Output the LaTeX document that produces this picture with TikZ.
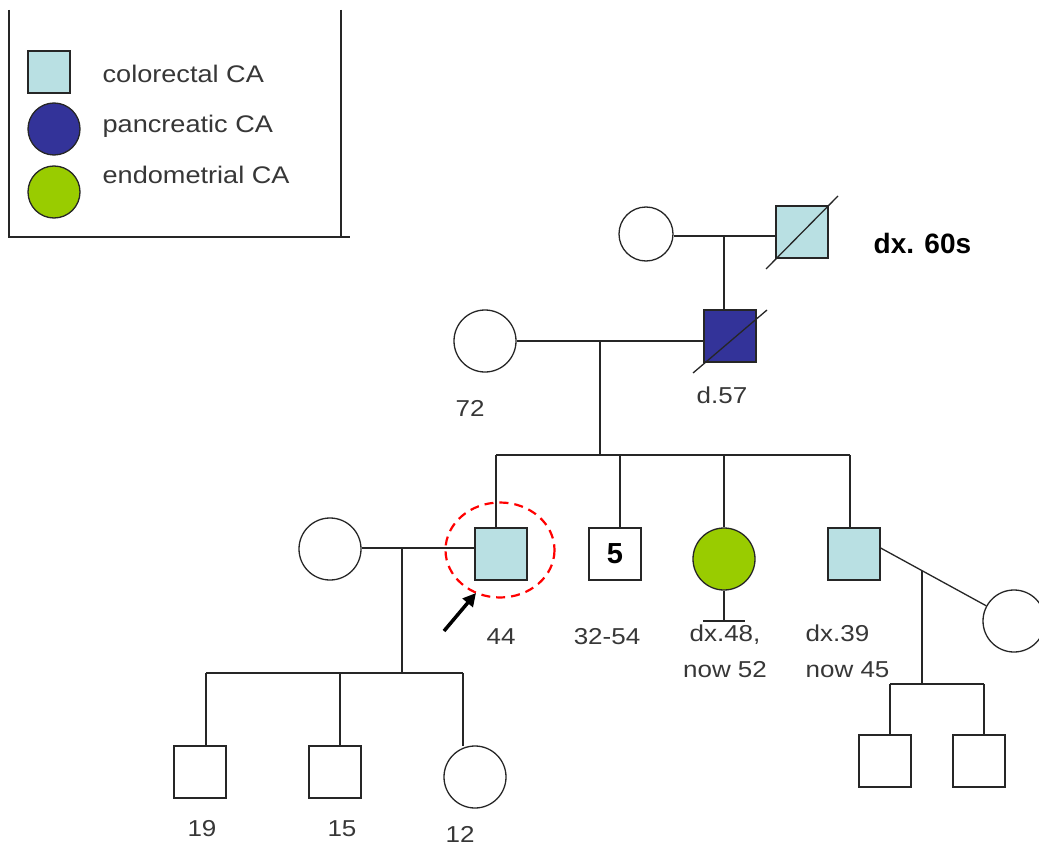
\documentclass[tikz,border=0pt]{standalone}
\usepackage{fontspec}
\setmainfont{Liberation Sans}
\newfontfamily\labfont[FakeStretch=1.13]{Liberation Sans}
\usetikzlibrary{arrows.meta}
\definecolor{crc}{RGB}{185,224,227}
\definecolor{panc}{RGB}{51,51,153}
\definecolor{endo}{RGB}{153,204,0}
\definecolor{labgray}{RGB}{55,55,55}
\begin{document}
\begin{tikzpicture}[x=1pt,y=-1pt,line width=1.3pt,
  sq/.style={draw=black!85,rectangle,minimum size=52pt,inner sep=0pt,fill=white},
  circ/.style={draw=black!85,circle,minimum size=62pt,inner sep=0pt,fill=white},
  lab/.style={font=\labfont\fontsize{23}{36}\selectfont,text=labgray,inner sep=0pt},
  legtxt/.style={font=\labfont\fontsize{24}{28}\selectfont,text=labgray,inner sep=0pt,anchor=west},
  lnk/.style={draw=black!85,line width=1.3pt}]
\useasboundingbox (0,0) rectangle (1039,848);
\clip (0,0) rectangle (1039,848);
\fill[white] (0,0) rectangle (1039,848);

% legend
\draw[lnk] (9,10) -- (9,237) -- (350,237);
\draw[lnk] (341,10) -- (341,237);
\node[sq,fill=crc,minimum size=42pt] (lg1) at (49,72) {};
\node[circ,fill=panc,minimum size=52pt] (lg2) at (54,129) {};
\node[circ,fill=endo,minimum size=52pt] (lg3) at (54,192) {};
\node[legtxt] (lt1) at (102,74) {colorectal CA};
\node[legtxt] (lt2) at (102,126) {pancreatic CA};
\node[legtxt] (lt3) at (102,175) {endometrial CA};

% generation I
\node[circ,minimum size=54pt] (gm) at (646,234) {};
\node[sq,fill=crc] (gf) at (802,232) {};
\draw[lnk] (766,269) -- (838,196);
\coordinate (m1) at (724,236);
\draw[lnk] (gm.east |- m1) -- (gf.west |- m1);
\node[font=\bfseries\fontsize{28}{32}\selectfont,anchor=west,inner sep=0pt] (dx60) at (873,243) {dx. 60s};

% generation II
\node[circ] (mo) at (485,341) {};
\node[sq,fill=panc] (fa) at (730,336) {};
\draw[lnk] (693,373) -- (767,310);
\draw[lnk] (m1) -- (m1 |- fa.north);
\coordinate (m2) at (600,341);
\draw[lnk] (mo.east |- m2) -- (fa.west |- m2);
\node[lab] (l72) at (470,408) {72};
\node[lab] (l57) at (722,395) {d.57};

% sibship II
\coordinate (s2) at (600,455);
\coordinate (s2a) at (496,455);
\coordinate (s2b) at (620,455);
\coordinate (s2c) at (724,455);
\coordinate (s2d) at (850,455);
\draw[lnk] (m2) -- (s2);
\draw[lnk] (s2a) -- (s2d);

\node[sq,fill=crc] (pb) at (501,554) {};
\node[sq] (five) at (615,554) {\bfseries\fontsize{29}{32}\selectfont 5};
\node[circ,fill=endo] (sis) at (724,559) {};
\node[sq,fill=crc] (br) at (854,554) {};
\draw[lnk] (s2a) -- (s2a |- pb.north);
\draw[lnk] (s2b) -- (s2b |- five.north);
\draw[lnk] (s2c) -- (sis.north);
\draw[lnk] (s2d) -- (s2d |- br.north);

% proband marking
\draw[red,dashed,line width=2.2pt,dash pattern=on 9pt off 6pt] (500,550) ellipse [x radius=54.5, y radius=47.5];
\coordinate (arrS) at (444,631);
\coordinate (arrE) at (476,593);
\draw[line width=3.5pt,-{Triangle[length=13pt,width=13pt]}] (arrS) -- (arrE);

\node[lab] (l44) at (501,637) {44};
\node[lab] (l3254) at (607,637) {32-54};

% no children bar
\coordinate (bar) at (724,621);
\draw[lnk] (sis.south) -- (bar);
\draw[lnk] (703,621) -- (745,621);
\node[lab,align=center,anchor=north] (l48) at (725,624) {dx.48,\\now 52};
\node[lab,align=left,anchor=north west] (l39) at (805,624) {dx.39\\now 45};

% proband's family
\node[circ] (wf) at (330,549) {};
\coordinate (m3) at (402,548);
\draw[lnk] (wf.east |- m3) -- (pb.west |- m3);
\coordinate (s3) at (402,673);
\draw[lnk] (m3) -- (s3);
\coordinate (s3a) at (206,673);
\coordinate (s3b) at (340,673);
\coordinate (s3c) at (463,673);
\draw[lnk] (s3a) -- (s3c);
\node[sq] (c1) at (200,772) {};
\node[sq] (c2) at (335,772) {};
\node[circ] (c3) at (475,777) {};
\draw[lnk] (s3a) -- (s3a |- c1.north);
\draw[lnk] (s3b) -- (s3b |- c2.north);
\draw[lnk] (s3c) -- (463,746);
\node[lab] (l19) at (202,829) {19};
\node[lab] (l15) at (342,829) {15};
\node[lab] (l12) at (460,834) {12};

% brother's family
\node[circ] (sp) at (1014,621) {};
\draw[lnk] ([yshift=6pt]br.east) -- (sp);
\coordinate (m4) at (922,571);
\coordinate (s4) at (922,684);
\draw[lnk] (m4) -- (s4);
\coordinate (s4a) at (890,684);
\coordinate (s4b) at (984,684);
\draw[lnk] (s4a) -- (s4b);
\node[sq] (g1) at (885,761) {};
\node[sq] (g2) at (979,761) {};
\draw[lnk] (s4a) -- (s4a |- g1.north);
\draw[lnk] (s4b) -- (s4b |- g2.north);
\end{tikzpicture}
\end{document}
